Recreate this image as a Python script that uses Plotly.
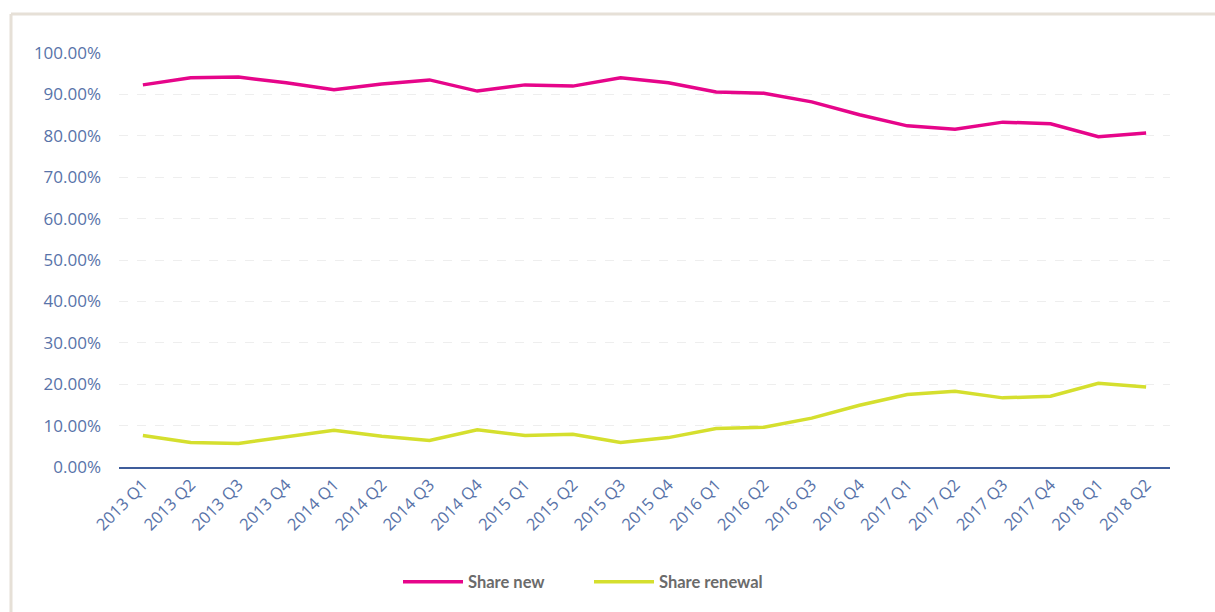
import plotly.graph_objects as go

quarters = ["2013 Q1", "2013 Q2", "2013 Q3", "2013 Q4",
            "2014 Q1", "2014 Q2", "2014 Q3", "2014 Q4",
            "2015 Q1", "2015 Q2", "2015 Q3", "2015 Q4",
            "2016 Q1", "2016 Q2", "2016 Q3", "2016 Q4",
            "2017 Q1", "2017 Q2", "2017 Q3", "2017 Q4",
            "2018 Q1", "2018 Q2"]

share_new = [92.3, 94.0, 94.2, 92.8, 91.1, 92.5, 93.5, 90.8,
             92.3, 92.0, 94.0, 92.8, 90.6, 90.3, 88.2, 85.1,
             82.4, 81.6, 83.3, 82.9, 79.8, 80.7]

share_renewal = [7.6, 5.9, 5.7, 7.2, 8.9, 7.4, 6.4, 9.0,
                 7.6, 7.9, 5.9, 7.1, 9.3, 9.6, 11.8, 14.9,
                 17.5, 18.3, 16.7, 17.1, 20.2, 19.3]

tick_vals = [0, 10, 20, 30, 40, 50, 60, 70, 80, 90, 100]
tick_text = [f"{v:.2f}%" for v in tick_vals]

fig = go.Figure()
fig.add_trace(go.Scatter(x=quarters, y=share_new, mode="lines", name="Share new",
                         line=dict(color="#e6058a", width=3.5)))
fig.add_trace(go.Scatter(x=quarters, y=share_renewal, mode="lines", name="Share renewal",
                         line=dict(color="#d5df2e", width=3.5)))

W, H = 1215, 612
L, R, T, B = 119, 45, 53, 145
pw, ph = W - L - R, H - T - B

def px_x(px):
    return (px - L) / pw

def px_y(py):
    return (H - B - py) / ph

frame = "#e6e0d7"
fig.add_shape(type="line", xref="paper", yref="paper",
              x0=px_x(11), x1=px_x(W + 5), y0=px_y(14), y1=px_y(14),
              line=dict(color=frame, width=3))
fig.add_shape(type="line", xref="paper", yref="paper",
              x0=px_x(11), x1=px_x(11), y0=px_y(14), y1=px_y(H + 5),
              line=dict(color=frame, width=3))

tick_color = "#5873a9"
fig.update_layout(
    width=W, height=H,
    margin=dict(l=L, r=R, t=T, b=B),
    paper_bgcolor="white", plot_bgcolor="white",
    font=dict(family="Open Sans", color=tick_color),
    showlegend=True,
    legend=dict(orientation="h", x=px_x(398), xanchor="left", y=px_y(582), yanchor="middle",
                font=dict(family="Lato", size=16.5, color="#6b6b6b", weight="bold"),
                itemwidth=60, entrywidth=116, entrywidthmode="pixels"),
    xaxis=dict(type="category", tickangle=-45, tickfont=dict(size=16.5, color=tick_color),
               showgrid=False, showline=True, linecolor="#3f5d9b", linewidth=1.5,
               ticks="", range=[-0.5, 21.5], zeroline=False),
    yaxis=dict(range=[0, 100], tickvals=tick_vals, ticktext=tick_text,
               tickfont=dict(size=17, color=tick_color),
               showgrid=True, gridcolor="#eeeeee", griddash="dash", gridwidth=1,
               zeroline=False, showline=False, ticks="", ticklabelstandoff=17),
)

fig.write_html("out.html", config={"displayModeBar": False},
               post_script="document.body.style.margin='0';")
